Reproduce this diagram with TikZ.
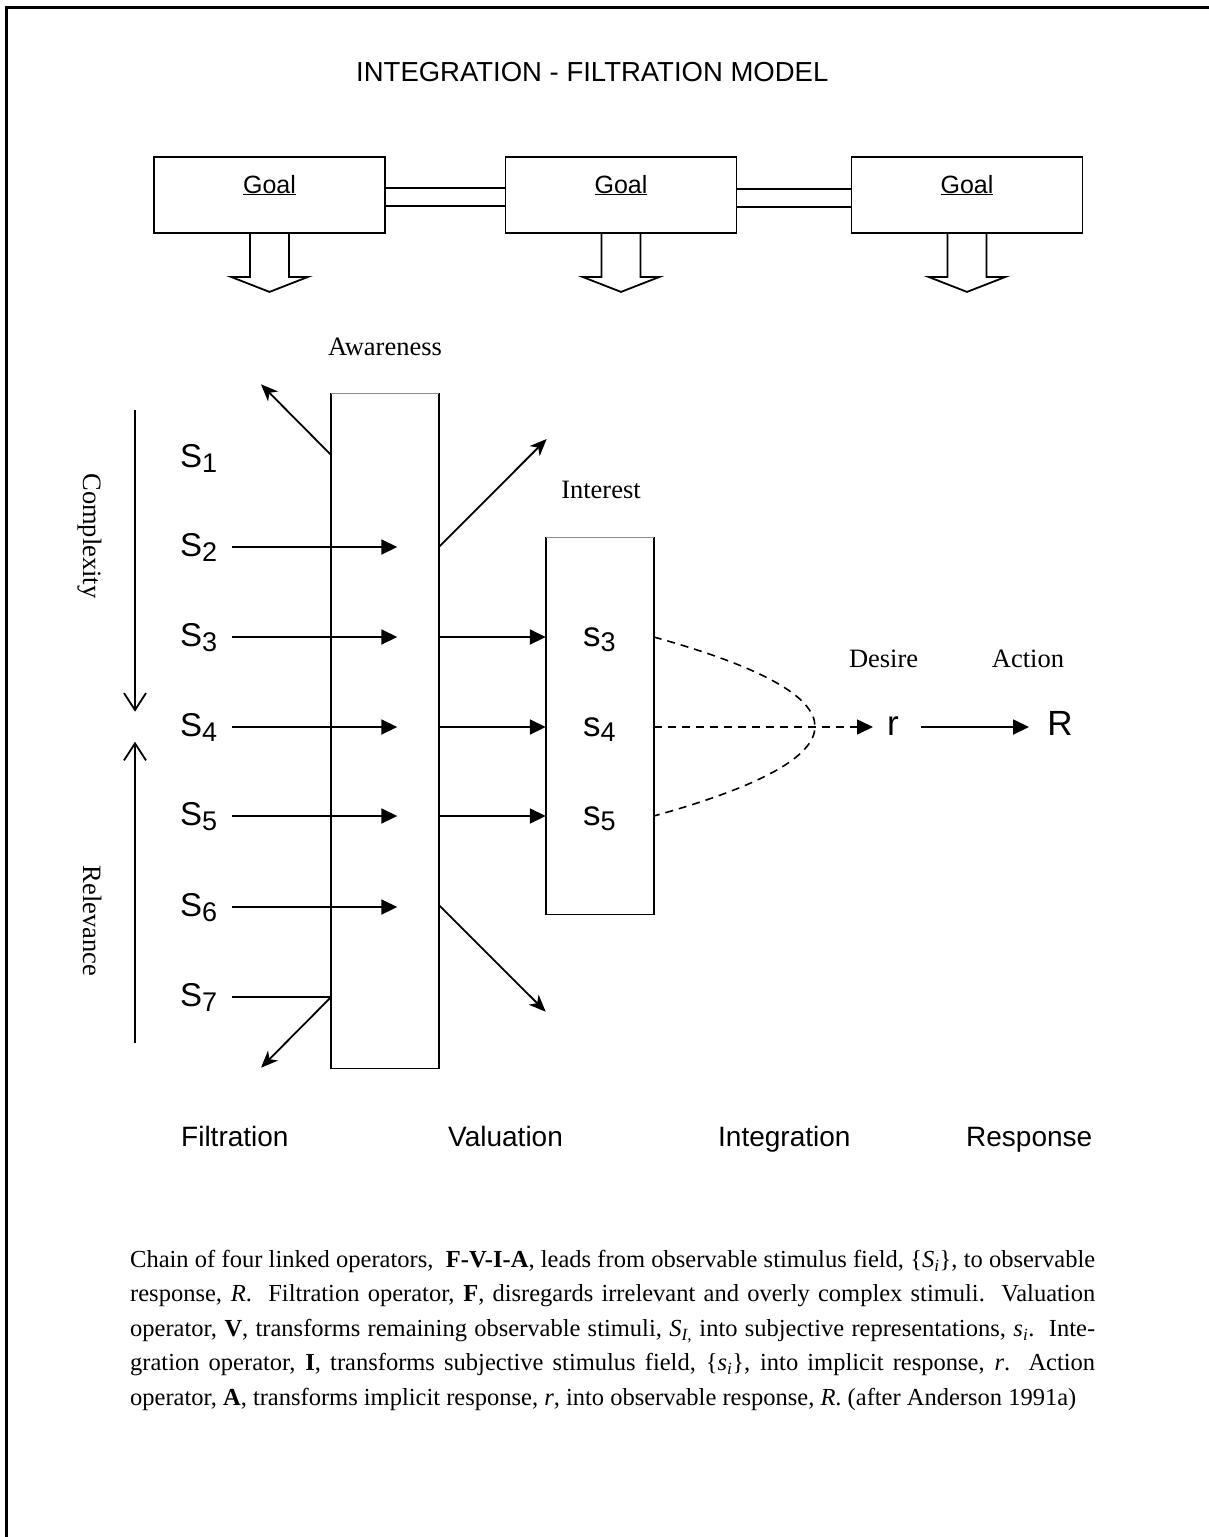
\documentclass[tikz,border=0pt]{standalone}
\usepackage{fontspec}
\setmainfont{Liberation Serif}
\newfontfamily\sansf{Liberation Sans}
\usetikzlibrary{arrows.meta}
\newcommand\Sx[2]{#1\raisebox{-4.5pt}{\fontsize{27}{27}\selectfont #2}}
\tikzset{
  ln/.style={line width=1.8pt},
  harrow/.style={ln,-{Triangle[length=16pt,width=15pt]}},
  darrow/.style={ln,-{Stealth[length=17pt,width=14pt,inset=5pt]}},
  barb/.style={ln,-{Straight Barb[length=17pt,width=22pt]}},
  lab/.style={font=\fontsize{26.5}{30}\selectfont, inner sep=0pt},
  stim/.style={font=\sansf\fontsize{33}{36}\selectfont, inner sep=0pt, anchor=base west},
  lstim/.style={font=\sansf\fontsize{35}{38}\selectfont, inner sep=0pt, anchor=base west},
  phase/.style={font=\sansf\fontsize{28}{30}\selectfont, inner sep=0pt, anchor=base west},
  gbox/.style={draw, ln, minimum width=231pt, minimum height=76pt, inner sep=0pt},
  goal/.style={font=\sansf\fontsize{25}{28}\selectfont, inner sep=0pt, anchor=base},
  tallbox/.style={inner sep=0pt},
}
\begin{document}
\begin{tikzpicture}[x=1pt,y=-1pt]
\useasboundingbox (0,0) rectangle (1209,1537);
% frame
\coordinate (fbl) at (6.7,1537);
\coordinate (ftl) at (6.7,7.3);
\coordinate (ftr) at (1209,7.3);
\draw[line width=2.6pt] (fbl) -- (ftl) -- (ftr);

% title
\node[font=\sansf\fontsize{27.5}{30}\selectfont, anchor=base west, inner sep=0pt] (title) at (356,81.7) {INTEGRATION - FILTRATION MODEL};

% goals
\foreach \n/\x in {1/269.5,2/621,3/967}{
  \node[gbox] (g\n) at (\x,195) {};
  \node[goal] (g\n t) at (\x,193) {\underline{Goal}};
  \draw[ln] (g\n.south) ++(-19.5,0) -- ++(0,43) -- ++(-19,0) -- ++(38.5,15) -- ++(38.5,-15) -- ++(-19,0) -- ++(0,-43);
}
\draw[ln] (g1.east |- 0,188) -- (g2.west |- 0,188);
\draw[ln] (g1.east |- 0,206) -- (g2.west |- 0,206);
\draw[ln] (g2.east |- 0,189) -- (g3.west |- 0,189);
\draw[ln] (g2.east |- 0,207) -- (g3.west |- 0,207);

% boxes
\node[tallbox, minimum width=107.4pt, minimum height=675pt] (aw) at (385,730.8) {};
\draw[ln] (aw.north west) -- (aw.south west) -- (aw.south east) -- (aw.north east);
\draw[line width=1pt, black!45] (aw.north west) -- (aw.north east);
\node[tallbox, minimum width=107.6pt, minimum height=377pt] (in) at (599.8,725.8) {};
\draw[ln] (in.north west) -- (in.south west) -- (in.south east) -- (in.north east);
\draw[line width=1pt, black!45] (in.north west) -- (in.north east);

\node[lab] (awl) at (385,347) {Awareness};
\node[lab] (inl) at (601,490) {Interest};

% rows
\foreach \i/\y in {1/458,2/547,3/637,4/727,5/816,6/907,7/997}{
  \coordinate (r\i) at (0,\y);
  \coordinate (st\i) at (232,\y);
  \coordinate (tp\i) at (397.3,\y);
  \node[stim] (S\i) at (180,\y+9.5) {\Sx{S}{\i}};
}
\foreach \i in {2,...,6}{
  \draw[harrow] (st\i) -- (tp\i);
}
\foreach \i in {3,4,5}{
  \draw[harrow] (aw.east |- r\i) -- (in.west |- r\i);
}
\node[lstim] (s3) at (583,646.5) {\Sx{s}{3}};
\node[lstim] (s4) at (583,736.5) {\Sx{s}{4}};
\node[lstim] (s5) at (583,825.5) {\Sx{s}{5}};

% filtered out
\coordinate (o1) at (261,384.3);
\coordinate (o2) at (546.7,439);
\coordinate (o3) at (545.7,1011.7);
\coordinate (o4) at (261,1067.7);
\coordinate (e1) at (0,455);
\coordinate (e3) at (0,905);
\draw[darrow] (aw.west |- e1) -- (o1);
\draw[darrow] (aw.east |- r2) -- (o2);
\draw[darrow] (aw.east |- e3) -- (o3);
\draw[ln] (st7) -- (aw.west |- r7);
\draw[darrow] (aw.west |- r7) -- (o4);

% complexity / relevance
\coordinate (c1) at (135,410);
\coordinate (c2) at (135,711.7);
\coordinate (v1) at (135,1043);
\coordinate (v2) at (135,741.7);
\draw[barb] (c1) -- (c2);
\draw[barb] (v1) -- (v2);
\node[lab, rotate=-90, anchor=base] (cxl) at (83,536) {Complexity};
\node[lab, rotate=-90, anchor=base] (rvl) at (83,921) {Relevance};

% integration
\node[lstim, anchor=base] (r) at (893,735.5) {r};
\node[lstim, anchor=base] (R) at (1060,735.5) {R};
\coordinate (rt) at (873,727);
\coordinate (rs) at (921,727);
\coordinate (Rt) at (1029,727);
\draw[line width=1.6pt, dash pattern=on 8pt off 6pt] (in.east |- r3) .. controls (868.7,696.7) and (868.7,756.3) .. (in.east |- r5);
\draw[line width=1.6pt, dash pattern=on 8pt off 6pt, -{Triangle[length=16pt,width=15pt]}] (in.east |- r4) -- (rt);
\draw[harrow] (rs) -- (Rt);
\node[lab, anchor=base] (des) at (883.6,667.3) {Desire};
\node[lab, anchor=base] (act) at (1028,667.3) {Action};

% phases
\node[phase] (p1) at (181,1146) {Filtration};
\node[phase] (p2) at (448,1146) {Valuation};
\node[phase] (p3) at (718,1146) {Integration};
\node[phase] (p4) at (966,1146) {Response};

% caption
\node[anchor=north west, inner sep=0pt, text width=965pt, align=justify,
      font=\fontsize{24.5}{34.5}\selectfont] (cap) at (130,1250) {%
Chain of four linked operators,\ \ \textbf{F-V-I-A}, leads from observable stimulus field, \{\textit{S\textsubscript{i}}\}, to observable\linebreak
response, \textit{R}.\ \ Filtration operator, \textbf{F}, disregards irrelevant and overly complex stimuli.\ \ Valuation\linebreak
operator, \textbf{V}, transforms remaining observable stimuli, \textit{S\textsubscript{I,}} into subjective representations, \textit{s\textsubscript{i}}.\ \ Inte-\linebreak
gration operator, \textbf{I}, transforms subjective stimulus field, \{\textit{s\textsubscript{i}}\}, into implicit response, \textit{r}.\ \ Action\linebreak
operator, \textbf{A}, transforms implicit response, \textit{r}, into observable response, \textit{R}. (after Anderson 1991a)};
\end{tikzpicture}
\end{document}
